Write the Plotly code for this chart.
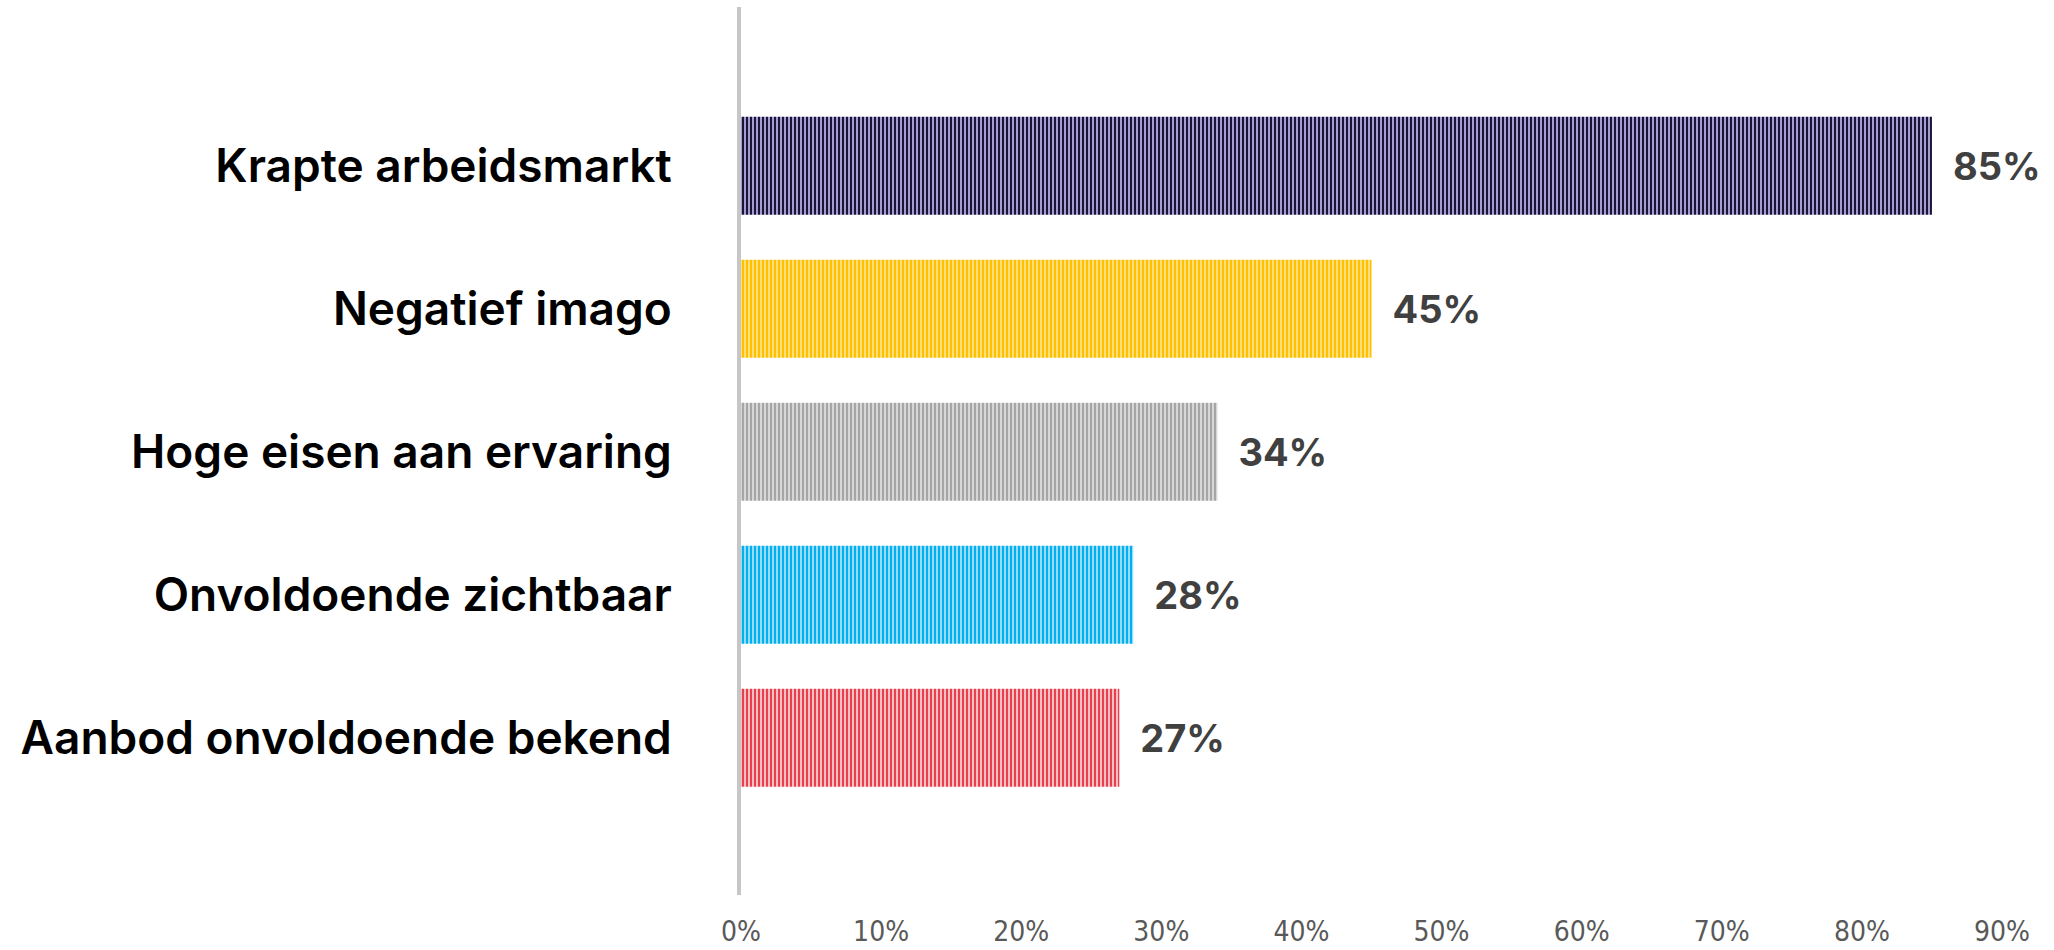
import plotly.graph_objects as go

categories = ["Krapte arbeidsmarkt", "Negatief imago", "Hoge eisen aan ervaring",
              "Onvoldoende zichtbaar", "Aanbod onvoldoende bekend"]
values = [85, 45, 34, 28, 27]
value_labels = ["85%", "45%", "34%", "28%", "27%"]
fg_colors = ["#1B1535", "#FFC000", "#A6A6A6", "#00B0F0", "#E8404C"]
bg_colors = ["#B4ACE2", "#FFE38A", "#DDDDDD", "#A8E0F8", "#F9CDD1"]
tick_vals = [0, 10, 20, 30, 40, 50, 60, 70, 80, 90]
tick_text = ["0%", "10%", "20%", "30%", "40%", "50%", "60%", "70%", "80%", "90%"]

fig = go.Figure()
for cat, val, lab, fg, bg in zip(categories, values, value_labels, fg_colors, bg_colors):
    fig.add_trace(go.Bar(
        x=[val],
        y=[cat],
        orientation="h",
        width=0.685,
        marker=dict(
            color=bg,
            line=dict(width=0),
            pattern=dict(shape="|", fgcolor=fg, bgcolor=bg, fgopacity=1,
                         size=4, solidity=0.55, fillmode="replace"),
        ),
        text=["  " + lab],
        textposition="outside",
        textfont=dict(family="Inter", size=38, color="#404040", weight=700),
        cliponaxis=False,
        hoverinfo="skip",
    ))

fig.update_layout(
    width=2054, height=950,
    margin=dict(l=741, r=52, t=7, b=55),
    paper_bgcolor="white", plot_bgcolor="white",
    showlegend=False,
    xaxis=dict(
        range=[0, 90], tickvals=tick_vals, ticktext=tick_text,
        showgrid=False, zeroline=False, showline=False,
        ticks="", ticklabelstandoff=17, automargin=False,
        tickfont=dict(family="DejaVu Sans Condensed, Liberation Sans Narrow, Roboto",
                      size=28, color="#595959"),
    ),
    yaxis=dict(
        categoryorder="array", categoryarray=categories,
        range=[5.1, -1.11],
        showgrid=False, zeroline=False, automargin=False,
        showline=True, linecolor="#C6C6C6", linewidth=4,
        ticks="", ticklabelstandoff=56,
        tickfont=dict(family="Inter", size=46, color="#000000", weight=600),
    ),
)

fig.write_html("out.html", config={"displayModeBar": False},
               post_script="document.body.style.margin='0px';")
